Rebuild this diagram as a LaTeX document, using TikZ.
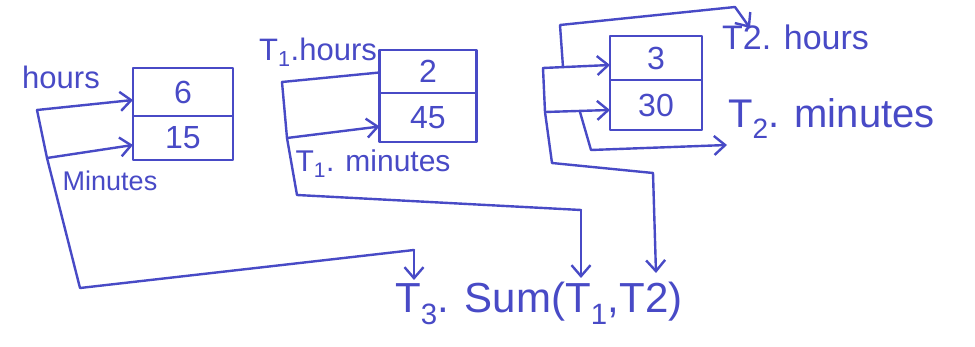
\documentclass[tikz,border=0pt]{standalone}
\usepackage{fontspec}
\setmainfont{Liberation Sans}
\usetikzlibrary{arrows.meta}
\definecolor{ink}{RGB}{72,74,198}
\begin{document}
\begin{tikzpicture}[x=1pt,y=-1pt,
  pen/.style={draw=ink,line width=2.4pt,line join=round,line cap=round},
  ptr/.style={pen,-{Straight Barb[length=11pt,width=19pt,line width=2.4pt]}},
  cell/.style={pen,text=ink,inner sep=0pt,outer sep=0pt,font=\fontsize{32}{34}\selectfont},
  lbl/.style={text=ink,inner sep=0pt,font=\fontsize{#1}{#1}\selectfont}]
\useasboundingbox[fill=white] (0,0) rectangle (975,347);

% boxes
\node[cell,minimum width=100pt,minimum height=48pt] (b1a) at (183,92) {6};
\node[cell,minimum width=100pt,minimum height=44pt] (b1b) at (183,138) {15};
\node[cell,minimum width=97pt,minimum height=43pt] (b2a) at (428,71.5) {2};
\node[cell,minimum width=97pt,minimum height=49pt] (b2b) at (428,117.5) {45};
\node[cell,minimum width=92pt,minimum height=44pt] (b3a) at (656,58) {3};
\node[cell,minimum width=92pt,minimum height=50pt] (b3b) at (656,105) {30};

% labels
\node[lbl=31] (l1h) at (61,77) {hours};
\node[lbl=27] (l1m) at (110,181) {Minutes};
\node[lbl=31] (l2h) at (318,52) {T\textsubscript{1}.hours};
\node[lbl=30] (l2m) at (373,164) {T\textsubscript{1}. minutes};
\node[lbl=34,anchor=base west] (l3h) at (722,50) {T2. hours};
\node[lbl=40,anchor=base west] (l3m) at (728,128) {T\textsubscript{2}. minutes};
\node[lbl=42,anchor=base west] (sum) at (395,313) {T\textsubscript{3}. Sum(T\textsubscript{1},T2)};

% first structure
\coordinate (p1a) at (37,110);
\coordinate (p1b) at (47,158);
\coordinate (p1c) at (80,288);
\coordinate (p1d) at (414,250);
\coordinate (e1) at (414,280);
\draw[pen] (p1a) -- (p1b) -- (p1c) -- (p1d);
\draw[ptr] (p1d) -- (e1);
\draw[ptr] (p1a) -- ([yshift=-8pt]b1a.west);
\draw[ptr] (p1b) -- ([yshift=-7pt]b1b.west);

% second structure
\coordinate (p2a) at (282,82);
\coordinate (p2b) at (287,138);
\coordinate (p2c) at (297,195);
\coordinate (p2d) at (581,210);
\coordinate (e2) at (581,278);
\draw[pen] (p2a) -- ([yshift=-1pt]b2a.west);
\draw[pen] (p2a) -- (p2b) -- (p2c) -- (p2d);
\draw[ptr] (p2d) -- (e2);
\draw[ptr] (p2b) -- ([yshift=-9pt]b2b.west);

% third structure
\coordinate (p3a) at (543,68);
\coordinate (p3b) at (545,112);
\coordinate (p3c) at (552,163);
\coordinate (p3d) at (653,173);
\coordinate (e3) at (656,273);
\draw[ptr] (p3a) -- ([yshift=-7pt]b3a.west);
\draw[ptr] (p3b) -- ([yshift=-5pt]b3b.west);
\draw[pen] (p3a) -- (p3b) -- (p3c) -- (p3d);
\draw[ptr] (p3d) -- (e3);

\coordinate (q1) at (563,67);
\coordinate (q2) at (560,25);
\coordinate (q3) at (735,7);
\coordinate (e4) at (750,28);
\draw[ptr] (q1) -- (q2) -- (q3) -- (e4);

\coordinate (r1) at (580,112);
\coordinate (r2) at (591,150);
\coordinate (e5) at (727,145);
\draw[ptr] (r1) -- (r2) -- (e5);
\end{tikzpicture}
\end{document}
